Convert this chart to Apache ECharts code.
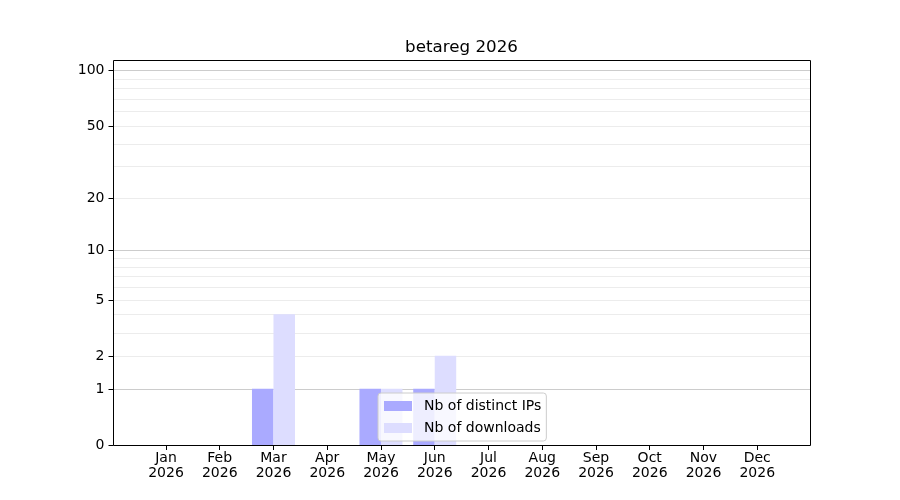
<!DOCTYPE html>
<html>
<head>
<meta charset="utf-8">
<script src="https://cdn.jsdelivr.net/npm/echarts@6/dist/echarts.min.js"></script>
<style>
  html, body { margin: 0; padding: 0; background: #fff; }
  #chart { width: 900px; height: 500px; }
</style>
</head>
<body>
<div id="chart"></div>
<script>
const months = ['Jan', 'Feb', 'Mar', 'Apr', 'May', 'Jun', 'Jul', 'Aug', 'Sep', 'Oct', 'Nov', 'Dec']
const year = '2026'
const distinctIps = [0, 0, 1, 0, 1, 1, 0, 0, 0, 0, 0, 0]
const downloads = [0, 0, 4, 0, 1, 2, 0, 0, 0, 0, 0, 0]
const tickLabels = [0, 1, 2, 5, 10, 20, 50, 100]
const majorGrid = [1, 10, 100]
const minorGrid = [2, 3, 4, 5, 6, 7, 8, 9, 20, 30, 40, 50, 60, 70, 80, 90]

// y scale is log10(v + 1)
const fwd = v => Math.log10(v + 1)
const back = t => Math.round(Math.pow(10, t) - 1)
const YMAX = 2.058

const font = 'DejaVu Sans'
const chart = echarts.init(document.getElementById('chart'))

const hiddenY = (gridIndex, extra) => Object.assign({
  type: 'value', gridIndex, min: 0, max: YMAX, position: 'left', offset: 0,
  axisLine: { show: false }, axisLabel: { show: false }, axisTick: { show: false },
  splitLine: { show: false }
}, extra)

const option = {
  animation: false,
  title: {
    text: 'betareg 2026',
    left: 456.5, textAlign: 'center', top: 34,
    textStyle: { fontFamily: font, fontSize: 16.7, fontWeight: 'normal', color: '#000' }
  },
  legend: {
    orient: 'vertical',
    left: 378, top: 393,
    padding: [6, 5, 6, 6],
    itemGap: 8,
    itemWidth: 28, itemHeight: 10,
    icon: 'rect',
    backgroundColor: 'rgba(255,255,255,0.8)',
    borderColor: '#cccccc', borderWidth: 1, borderRadius: 3,
    textStyle: { fontFamily: font, fontSize: 14, color: '#000', padding: [0, 0, 0, 7] },
    data: ['Nb of distinct IPs', 'Nb of downloads']
  },
  grid: [
    { left: 113.5, top: 60.5, width: 697, height: 385, show: true, borderColor: '#000', borderWidth: 1, backgroundColor: 'transparent', z: 3 },
    { left: 139.1, top: 60, width: 645, height: 385 }
  ],
  xAxis: [
    { type: 'value', gridIndex: 0, min: 0, max: 1, show: false },
    {
      type: 'category', gridIndex: 1, data: months,
      axisLine: { show: false },
      axisTick: { show: true, alignWithLabel: true, length: 5, lineStyle: { color: '#000' } },
      axisLabel: {
        margin: 6, fontFamily: font, fontSize: 14, lineHeight: 15, color: '#000',
        formatter: m => m + '\n' + year
      }
    }
  ],
  yAxis: [
    hiddenY(0, {
      axisTick: { show: false, customValues: majorGrid.map(fwd) },
      splitLine: { show: true, lineStyle: { color: '#cccccc', width: 1 } }
    }),
    hiddenY(0, {
      axisTick: { show: false, customValues: minorGrid.map(fwd) },
      splitLine: { show: true, lineStyle: { color: '#ececec', width: 1 } }
    }),
    hiddenY(0, {
      axisTick: { show: true, length: 5, customValues: tickLabels.map(fwd), lineStyle: { color: '#000' } },
      axisLabel: {
        show: true, customValues: tickLabels.map(fwd), margin: 9,
        fontFamily: font, fontSize: 14, color: '#000',
        formatter: t => String(back(t))
      }
    }),
    hiddenY(1)
  ],
  series: [
    {
      name: 'Nb of distinct IPs', type: 'bar', xAxisIndex: 1, yAxisIndex: 3,
      barCategoryGap: '20%', barGap: '0%',
      itemStyle: { color: '#aaaaff' },
      data: distinctIps.map(fwd)
    },
    {
      name: 'Nb of downloads', type: 'bar', xAxisIndex: 1, yAxisIndex: 3,
      barCategoryGap: '20%', barGap: '0%',
      itemStyle: { color: '#ddddff' },
      data: downloads.map(fwd)
    }
  ]
}

chart.setOption(option)
</script>
</body>
</html>
